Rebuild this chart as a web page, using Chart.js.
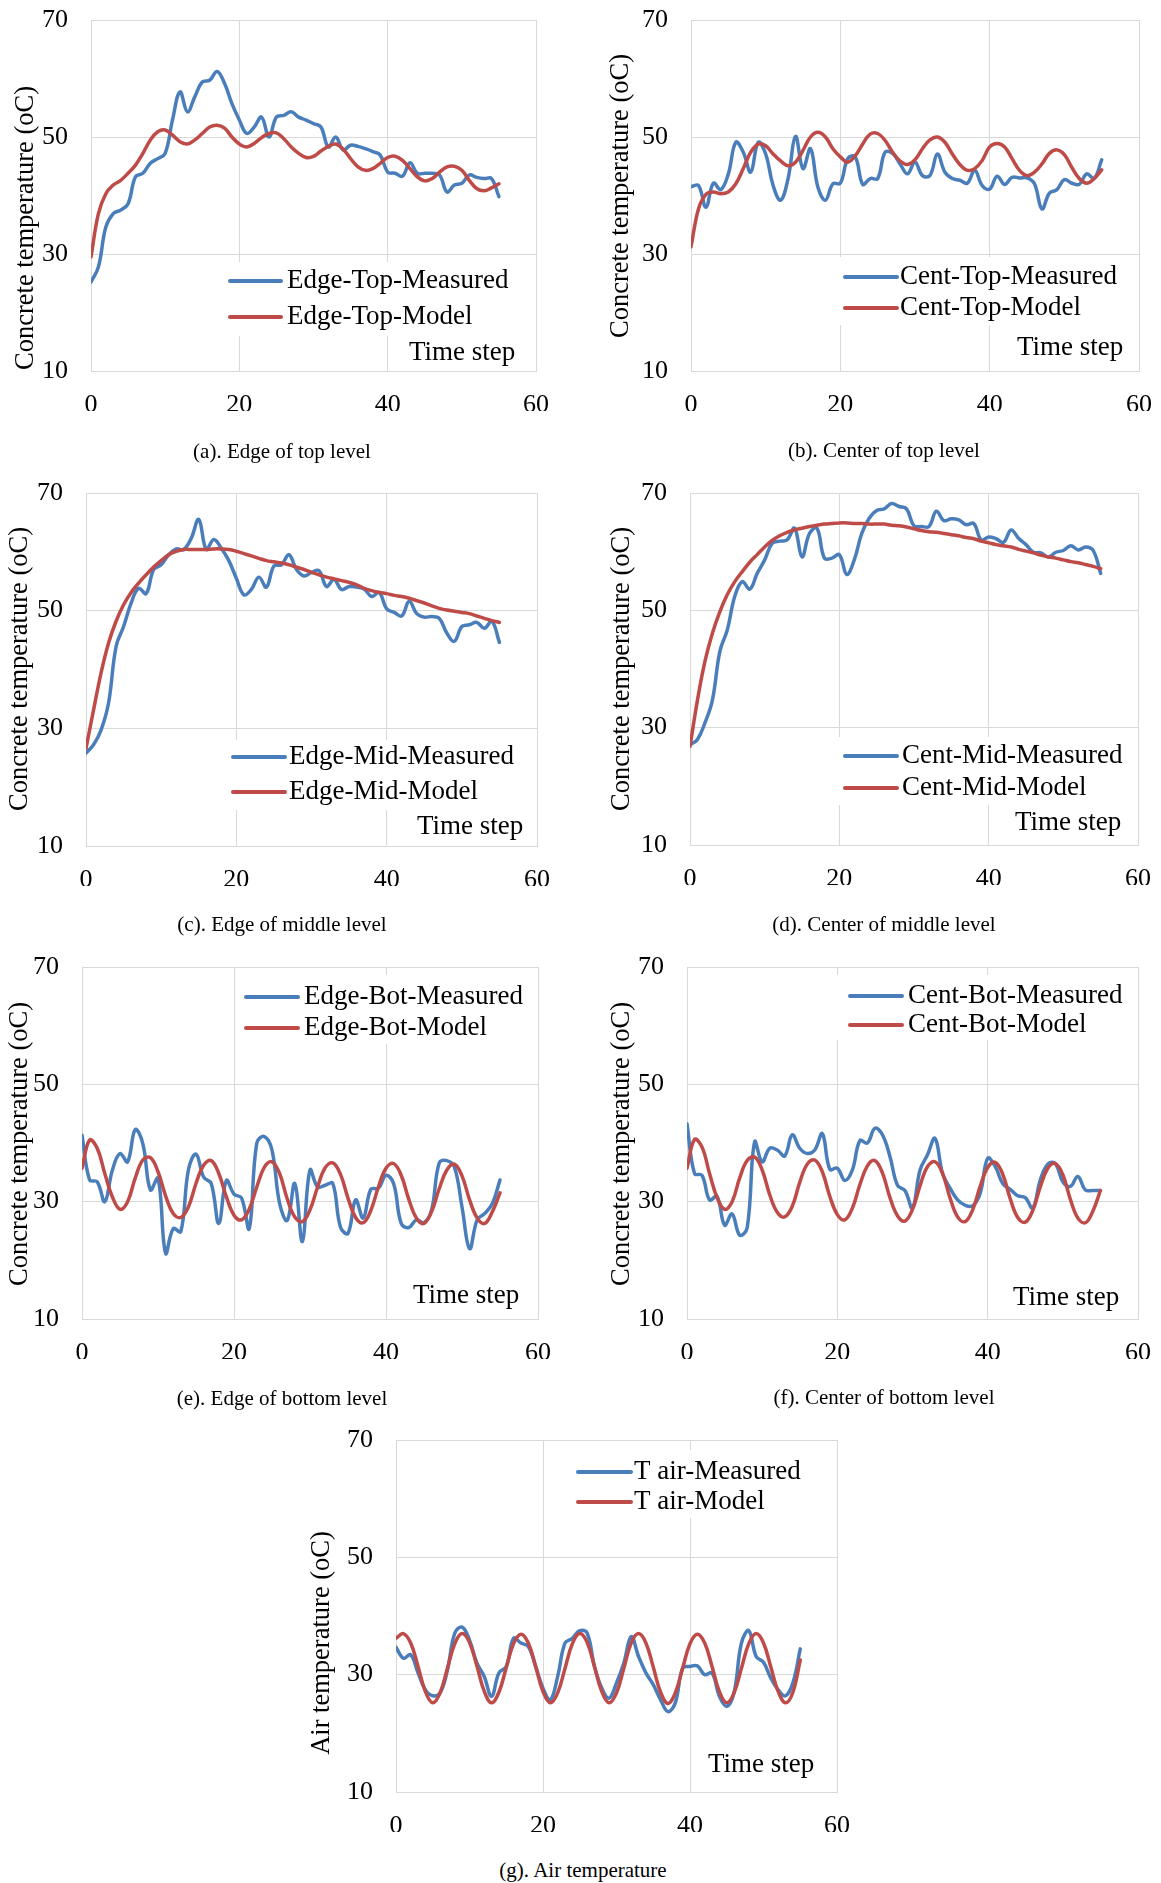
<!DOCTYPE html>
<html>
<head>
<meta charset="utf-8">
<script src="https://cdn.jsdelivr.net/npm/chart.js@4.4.1/dist/chart.umd.min.js"></script>
<style>
  body { margin: 0; background: #fff; }
  #page { position: relative; width: 1161px; height: 1883px; background: #fff; overflow: hidden; }
  #page canvas { position: absolute; }
  .caption {
    position: absolute;
    font-family: 'Liberation Serif', 'Times New Roman', serif;
    font-size: 21px;
    color: #000;
    white-space: nowrap;
    transform: translate(-50%, -50%);
  }
</style>
</head>
<body>
<div id="page"></div>
<script>
// Time steps shared by every panel
const timeSteps = [0,1,2,3,4,5,6,7,8,9,10,11,12,13,14,15,16,17,18,19,20,21,22,23,24,25,26,27,
  28,29,30,31,32,33,34,35,36,37,38,39,40,41,42,43,44,45,46,47,48,49,50,51,52,53,54,55];

const xTicks = [0, 20, 40, 60];
const yTicks = [10, 30, 50, 70];

// (a) edge, top level
const edgeTopMeasured = [25.2,27.8,34.6,36.9,37.5,38.6,43.2,43.8,45.5,46.3,47.2,53.0,57.7,54.3,56.9,59.4,59.7,61.2,59.2,55.7,
  52.9,50.6,51.7,53.4,50.0,53.4,53.7,54.3,53.4,52.9,52.3,51.7,48.3,50.0,47.8,48.6,48.4,48.0,47.5,46.9,
  44.0,43.8,43.3,45.6,43.8,43.8,43.8,43.5,40.6,41.8,42.1,43.5,43.1,42.9,42.9,39.8];
const edgeTopModel = [29.5,36.9,40.3,41.8,42.6,43.8,45.2,47.2,49.5,50.9,51.2,50.3,49.2,48.8,49.5,50.6,51.7,52.0,51.5,50.0,
  48.8,48.3,48.9,49.9,50.6,50.7,49.7,48.3,47.2,46.5,46.7,47.6,48.4,48.8,47.9,46.3,44.9,44.3,44.6,45.5,
  46.5,46.7,46.0,44.6,43.2,42.5,42.9,44.0,44.9,45.0,44.3,42.6,41.2,40.8,41.3,42.0];

// (b) center, top level
const centTopMeasured = [41.5,41.7,38.0,42.1,41.0,43.7,49.1,47.4,44.0,49.1,47.1,41.7,39.2,42.9,50.1,44.6,48.0,41.4,39.2,42.0,
  42.1,46.3,46.6,41.9,42.9,42.9,47.4,47.2,45.4,43.7,45.7,43.4,43.4,47.1,44.0,42.9,42.6,42.1,44.3,41.7,
  41.1,43.3,41.9,43.1,43.0,43.0,42.0,37.7,40.4,41.0,42.7,42.1,41.9,43.7,42.9,46.1];
const centTopModel = [31.2,37.7,40.2,40.6,40.3,40.6,42.0,44.6,47.4,48.8,48.5,47.1,45.9,45.1,45.7,47.7,50.0,50.8,50.0,48.0,
  46.6,45.7,46.8,48.8,50.5,50.6,49.4,47.4,45.9,45.3,46.1,48.0,49.5,50.0,49.1,47.1,45.3,44.3,44.6,46.0,
  48.3,48.9,48.3,46.3,44.3,43.4,44.0,45.4,47.2,47.8,47.0,44.8,42.9,42.1,42.9,44.4];

// (c) edge, middle level
const edgeMidMeasured = [25.8,27.2,29.7,34.3,43.9,47.3,51.3,53.8,52.9,57.0,57.8,59.5,60.5,60.4,62.3,65.5,60.4,62.1,60.6,58.5,
  55.5,52.7,53.6,55.7,54.0,57.6,57.8,59.5,57.0,55.9,56.5,56.8,54.1,55.3,53.6,54.1,54.0,53.7,52.4,53.1,
  50.3,49.7,49.1,51.6,49.5,48.9,49.0,48.7,46.2,44.8,47.3,47.6,48.0,47.0,48.2,44.6];
const edgeMidModel = [26.6,33.1,39.4,44.5,48.2,51.0,53.1,54.7,56.1,57.4,58.5,59.5,60.1,60.4,60.4,60.4,60.4,60.5,60.5,60.4,
  60.1,59.7,59.3,58.9,58.5,58.3,58.1,57.8,57.4,57.0,56.5,56.1,55.7,55.4,55.1,54.8,54.4,53.8,53.4,53.1,
  52.9,52.6,52.4,52.1,51.7,51.3,50.8,50.4,50.1,49.9,49.7,49.5,49.1,48.7,48.3,48.0];

// (d) center, middle level
const centMidMeasured = [27.1,28.0,30.8,34.7,43.0,46.7,52.4,54.9,53.6,56.3,58.6,61.4,61.8,62.0,64.0,59.1,63.1,64.0,58.9,58.9,
  59.5,56.1,58.6,63.1,65.7,67.0,67.3,68.2,67.7,67.3,64.4,64.3,64.3,66.9,65.3,65.6,65.4,64.6,64.8,62.0,
  62.5,62.2,61.6,63.7,62.3,61.2,59.9,59.8,59.1,59.9,60.2,61.0,60.3,60.8,60.2,56.3];
const centMidModel = [26.8,34.7,41.3,46.1,49.8,52.7,54.9,56.6,58.2,59.5,60.8,61.9,62.7,63.3,63.7,64.0,64.3,64.5,64.7,64.8,
  64.9,64.9,64.8,64.8,64.7,64.7,64.7,64.5,64.4,64.2,63.9,63.6,63.4,63.3,63.1,62.9,62.7,62.4,62.2,61.8,
  61.5,61.2,61.0,60.8,60.4,60.1,59.8,59.4,59.1,58.9,58.6,58.3,58.1,57.8,57.5,57.1];

// (e) edge, bottom level
const edgeBotMeasured = [41.3,33.7,33.4,30.0,35.4,38.2,36.8,42.3,39.9,32.0,34.0,21.2,25.4,24.9,35.4,38.1,34.2,33.1,26.3,33.6,
  31.3,30.6,25.4,40.0,41.1,38.8,29.7,26.8,33.1,23.2,35.4,32.5,32.8,33.1,25.7,24.6,30.3,27.2,32.1,32.3,
  34.5,33.1,26.3,25.6,26.9,26.4,28.6,36.6,37.0,35.9,29.1,22.0,26.9,28.0,29.7,33.7];
const edgeBotModel = [35.7,40.5,39.1,34.8,30.8,28.7,30.0,34.0,37.1,37.5,35.1,31.0,28.0,27.3,29.1,33.1,36.2,37.0,34.8,30.8,
  27.7,26.9,28.7,32.5,35.9,36.8,34.8,30.5,27.4,26.6,28.6,32.5,35.8,36.6,34.7,30.6,27.3,26.4,28.5,32.5,
  35.7,36.5,34.5,30.4,27.2,26.3,28.3,32.2,35.4,36.4,34.4,30.3,27.2,26.3,28.3,31.5];

// (f) center, bottom level
const centBotMeasured = [43.3,34.8,34.5,30.3,30.9,26.0,27.9,24.3,25.5,40.2,36.8,39.1,38.8,37.8,41.4,39.1,38.2,38.8,41.6,35.5,
  35.7,33.6,35.4,40.4,40.0,42.5,41.4,37.7,32.8,31.9,28.9,35.4,38.0,40.8,34.8,32.3,30.3,29.4,29.3,31.4,
  37.4,36.0,33.1,32.1,31.0,30.7,28.9,33.7,36.4,36.5,33.4,32.6,34.3,32.0,31.9,31.9];
const centBotModel = [35.7,40.6,39.3,34.8,30.7,28.7,30.0,34.0,37.0,37.6,35.4,31.2,28.2,27.4,29.2,33.3,36.4,37.1,35.1,30.9,
  27.8,26.9,28.9,32.9,36.1,37.0,34.9,30.7,27.6,26.7,28.7,32.7,36.0,36.8,34.8,30.6,27.4,26.6,28.6,32.6,
  35.8,36.7,34.7,30.5,27.3,26.5,28.5,32.5,35.7,36.5,34.6,30.4,27.2,26.4,28.4,31.9];

// (g) air temperature
const airMeasured = [34.7,32.8,33.4,30.3,27.4,26.4,26.9,30.8,37.1,38.1,35.9,32.0,29.7,26.3,30.3,31.4,36.2,35.4,34.8,31.4,
  27.7,25.7,29.7,35.4,36.2,37.5,37.1,31.4,27.7,26.0,28.6,32.0,36.5,33.1,30.3,28.3,25.7,23.7,25.2,31.1,
  31.4,31.5,30.0,30.3,26.3,24.6,27.0,35.4,37.5,33.1,32.1,29.4,27.4,26.4,28.6,34.4];
const airModel = [36.2,37.0,35.4,31.4,27.1,25.2,26.9,31.1,35.3,37.0,35.5,31.5,27.2,25.2,27.0,31.2,35.3,36.9,35.4,31.4,
  27.1,25.2,26.9,31.1,35.3,37.0,35.5,31.4,27.1,25.2,26.9,31.1,35.4,37.0,35.4,31.3,27.0,25.1,26.9,31.1,
  35.3,36.9,35.4,31.4,27.1,25.2,26.9,31.1,35.3,37.0,35.4,31.3,27.1,25.2,27.0,32.5];

const BLUE = '#4a7ebb';
const RED = '#be4b48';
const GRID = '#d9d9d9';
const SERIF = "'Liberation Serif', 'Times New Roman', serif";

// page layout: canvas box [x, y, w, h], plot area [left, top, right, bottom] in page pixels
const panels = [
  { id: 'a', box: [0, 0, 580, 470], plot: [91, 20, 536, 371],
    series: [edgeTopMeasured, edgeTopModel], names: ['Edge-Top-Measured', 'Edge-Top-Model'],
    yTitle: 'Concrete temperature (oC)', yTitleAt: [26, 228],
    legend: { x1: 230, x2: 281, tx: 287, y1: 281, y2: 317, bg: [224, 262, 514, 336] },
    stepAt: [409, 353], caption: '(a). Edge of top level', captionAt: [282, 451] },
  { id: 'b', box: [580, 0, 581, 470], plot: [691, 20, 1139, 371],
    series: [centTopMeasured, centTopModel], names: ['Cent-Top-Measured', 'Cent-Top-Model'],
    yTitle: 'Concrete temperature (oC)', yTitleAt: [621, 196],
    legend: { x1: 845, x2: 897, tx: 900, y1: 277, y2: 308, bg: [835, 257, 1122, 325] },
    stepAt: [1017, 348], caption: '(b). Center of top level', captionAt: [884, 450] },
  { id: 'c', box: [0, 470, 580, 470], plot: [86, 493, 537, 846],
    series: [edgeMidMeasured, edgeMidModel], names: ['Edge-Mid-Measured', 'Edge-Mid-Model'],
    yTitle: 'Concrete temperature (oC)', yTitleAt: [20, 669],
    legend: { x1: 233, x2: 285, tx: 289, y1: 757, y2: 792, bg: [226, 740, 516, 810] },
    stepAt: [417, 827], caption: '(c). Edge of middle level', captionAt: [282, 924] },
  { id: 'd', box: [580, 470, 581, 470], plot: [690, 493, 1138, 845],
    series: [centMidMeasured, centMidModel], names: ['Cent-Mid-Measured', 'Cent-Mid-Model'],
    yTitle: 'Concrete temperature (oC)', yTitleAt: [622, 669],
    legend: { x1: 845, x2: 897, tx: 902, y1: 756, y2: 788, bg: [838, 737, 1124, 805] },
    stepAt: [1015, 823], caption: '(d). Center of middle level', captionAt: [884, 924] },
  { id: 'e', box: [0, 940, 580, 470], plot: [82, 967, 538, 1319],
    series: [edgeBotMeasured, edgeBotModel], names: ['Edge-Bot-Measured', 'Edge-Bot-Model'],
    yTitle: 'Concrete temperature (oC)', yTitleAt: [20, 1144],
    legend: { x1: 246, x2: 298, tx: 304, y1: 997, y2: 1028, bg: [240, 975, 524, 1044] },
    stepAt: [413, 1296], caption: '(e). Edge of bottom level', captionAt: [282, 1398] },
  { id: 'f', box: [580, 940, 581, 470], plot: [687, 967, 1138, 1319],
    series: [centBotMeasured, centBotModel], names: ['Cent-Bot-Measured', 'Cent-Bot-Model'],
    yTitle: 'Concrete temperature (oC)', yTitleAt: [622, 1144],
    legend: { x1: 850, x2: 902, tx: 908, y1: 996, y2: 1025, bg: [836, 975, 1124, 1040] },
    stepAt: [1013, 1298], caption: '(f). Center of bottom level', captionAt: [884, 1397] },
  { id: 'g', box: [280, 1410, 600, 430], plot: [396, 1440, 837, 1792],
    series: [airMeasured, airModel], names: ['T air-Measured', 'T air-Model'],
    yTitle: 'Air temperature (oC)', yTitleAt: [322, 1643],
    legend: { x1: 578, x2: 631, tx: 634, y1: 1472, y2: 1502, bg: [572, 1450, 804, 1518] },
    stepAt: [708, 1765], caption: '(g). Air temperature', captionAt: [583, 1870] }
];

// legend, "Time step" and y title drawn straight on the canvas
function decorPlugin(p) {
  const ox = p.box[0], oy = p.box[1];
  return {
    id: 'decor_' + p.id,
    beforeDatasetsDraw(chart) {
      const ctx = chart.ctx;
      const bg = p.legend.bg;
      ctx.save();
      ctx.fillStyle = '#fff';
      ctx.fillRect(bg[0] - ox, bg[1] - oy, bg[2] - bg[0], bg[3] - bg[1]);
      ctx.restore();
    },
    afterDatasetsDraw(chart) {
      const ctx = chart.ctx;
      const lg = p.legend;
      ctx.save();
      ctx.lineWidth = 4;
      ctx.lineCap = 'round';
      ctx.font = '27px ' + SERIF;
      ctx.textAlign = 'left';
      ctx.textBaseline = 'middle';
      [[lg.y1, BLUE, p.names[0]], [lg.y2, RED, p.names[1]]].forEach(([y, color, name]) => {
        ctx.strokeStyle = color;
        ctx.beginPath();
        ctx.moveTo(lg.x1 - ox, y - oy);
        ctx.lineTo(lg.x2 - ox, y - oy);
        ctx.stroke();
        ctx.fillStyle = '#000';
        ctx.fillText(name, lg.tx - ox, y - oy);
      });
      ctx.fillText('Time step', p.stepAt[0] - ox, p.stepAt[1] - oy);
      ctx.restore();
    },
    afterDraw(chart) {
      const ctx = chart.ctx;
      ctx.save();
      ctx.translate(p.yTitleAt[0] - ox, p.yTitleAt[1] - oy);
      ctx.rotate(-Math.PI / 2);
      ctx.fillStyle = '#000';
      ctx.font = '26.5px ' + SERIF;
      ctx.textAlign = 'center';
      ctx.textBaseline = 'middle';
      ctx.fillText(p.yTitle, 0, 0);
      ctx.restore();
    }
  };
}

const page = document.getElementById('page');

panels.forEach(p => {
  const [bx, by, bw, bh] = p.box;
  const [L, T, R, B] = p.plot;

  const canvas = document.createElement('canvas');
  canvas.width = bw;
  canvas.height = bh;
  canvas.style.left = bx + 'px';
  canvas.style.top = by + 'px';
  canvas.style.width = bw + 'px';
  canvas.style.height = bh + 'px';
  page.appendChild(canvas);

  const cap = document.createElement('div');
  cap.className = 'caption';
  cap.textContent = p.caption;
  cap.style.left = p.captionAt[0] + 'px';
  cap.style.top = p.captionAt[1] + 'px';
  page.appendChild(cap);

  const yAxisWidth = L - bx;
  const xAxisHeight = 40;
  const tickFont = { family: SERIF, size: 26 };

  new Chart(canvas.getContext('2d'), {
    type: 'line',
    data: {
      datasets: [
        { label: p.names[0], data: timeSteps.map((t, i) => ({ x: t, y: p.series[0][i] })),
          borderColor: BLUE, borderWidth: 3.5, pointRadius: 0, tension: 0.4, fill: false,
          borderCapStyle: 'round', borderJoinStyle: 'round', order: 1 },
        { label: p.names[1], data: timeSteps.map((t, i) => ({ x: t, y: p.series[1][i] })),
          borderColor: RED, borderWidth: 3.5, pointRadius: 0, tension: 0.4, fill: false,
          borderCapStyle: 'round', borderJoinStyle: 'round', order: 0 }
      ]
    },
    options: {
      responsive: false,
      animation: false,
      devicePixelRatio: 1,
      layout: {
        padding: { left: 0, top: T - by, right: bw - (R - bx), bottom: bh - (B - by) - xAxisHeight }
      },
      plugins: { legend: { display: false }, tooltip: { enabled: false } },
      scales: {
        x: {
          type: 'linear', min: xTicks[0], max: xTicks[xTicks.length - 1],
          afterBuildTicks: s => { s.ticks = xTicks.map(v => ({ value: v })); },
          ticks: { font: tickFont, color: '#000', padding: 19, maxRotation: 0 },
          grid: { color: GRID, lineWidth: 1, drawTicks: false },
          border: { color: GRID },
          afterFit: s => { s.height = xAxisHeight; s.paddingLeft = 0; s.paddingRight = 0; }
        },
        y: {
          type: 'linear', min: yTicks[0], max: yTicks[yTicks.length - 1],
          afterBuildTicks: s => { s.ticks = yTicks.map(v => ({ value: v })); },
          ticks: { font: tickFont, color: '#000', padding: 23 },
          grid: { color: GRID, lineWidth: 1, drawTicks: false },
          border: { color: GRID },
          afterFit: s => { s.width = yAxisWidth; s.paddingTop = 0; s.paddingBottom = 0; }
        }
      }
    },
    plugins: [decorPlugin(p)]
  });
});
</script>
</body>
</html>
